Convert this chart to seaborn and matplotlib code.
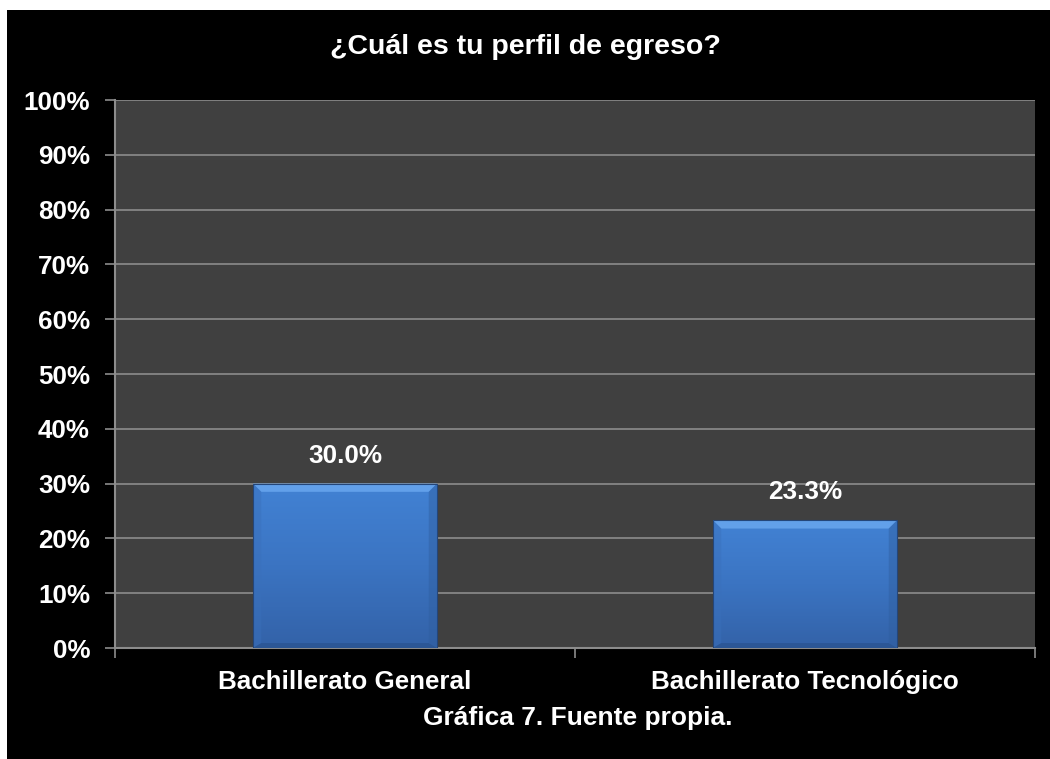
import numpy as np
import pandas as pd
import matplotlib
matplotlib.use("Agg")
import matplotlib.pyplot as plt
from matplotlib.patches import Rectangle, Polygon
from matplotlib.ticker import PercentFormatter, FixedLocator
import seaborn as sns

categories = ["Bachillerato General", "Bachillerato Tecnológico"]
values = [30.0, 23.3]
y_ticks = [0, 10, 20, 30, 40, 50, 60, 70, 80, 90, 100]
title = "¿Cuál es tu perfil de egreso?"
caption = "Gráfica 7. Fuente propia."

sns.set_theme(style="dark")
plt.rcParams["font.family"] = ["Liberation Sans", "DejaVu Sans"]
plt.rcParams["font.weight"] = "bold"

df = pd.DataFrame({"categoria": categories, "valor": values})

fig = plt.figure(figsize=(10.5, 7.59), dpi=100, facecolor="white")
# black panel behind the whole chart, leaving a thin white margin top/left
fig.patches.append(Rectangle((7 / 1050, 0), 1, 1 - 10 / 759,
                             transform=fig.transFigure, facecolor="black",
                             edgecolor="none", zorder=-10))

ax = fig.add_axes([115 / 1050, 1 - 648 / 759, 920 / 1050, 548 / 759])
ax.set_facecolor("#404040")

sns.barplot(data=df, x="categoria", y="valor", ax=ax, width=0.40,
            color="#3d78c8", saturation=1, edgecolor="none", zorder=3)

ax.set_xlim(-0.5, 1.5)
ax.set_ylim(0, 100)
ax.yaxis.set_major_locator(FixedLocator(y_ticks))
ax.yaxis.set_major_formatter(PercentFormatter(decimals=0))
ax.grid(axis="y", color="#8c8c8c", linewidth=1.2, zorder=1)
ax.grid(axis="x", visible=False)
ax.set_axisbelow(True)

# gradient fill and bevelled edges on each bar
grad = np.linspace(0, 1, 256).reshape(-1, 1)
cmap = matplotlib.colors.LinearSegmentedColormap.from_list(
    "barblue", ["#3362a8", "#3b74c2", "#4282d4"])
dx, dy = 0.018, 1.5   # bevel size in data units (~8 px)
for patch, val in zip(ax.patches, values):
    x0, w = patch.get_x(), patch.get_width()
    x1 = x0 + w
    im = ax.imshow(grad, extent=(x0, x1, 0, val), origin="lower",
                   cmap=cmap, aspect="auto", zorder=4)
    im.set_clip_path(patch)
    # top bevel (light)
    ax.add_patch(Polygon([(x0, val), (x1, val), (x1 - dx, val - dy),
                          (x0 + dx, val - dy)], closed=True,
                         facecolor="#62a0ea", edgecolor="none", zorder=5))
    # left / right bevels (subtle)
    ax.add_patch(Polygon([(x0, val), (x0 + dx, val - dy), (x0 + dx, dy * 0.6),
                          (x0, 0)], closed=True, facecolor="#3a70bb",
                         edgecolor="none", zorder=5, alpha=0.45))
    ax.add_patch(Polygon([(x1, val), (x1 - dx, val - dy), (x1 - dx, dy * 0.6),
                          (x1, 0)], closed=True, facecolor="#2f5e9f",
                         edgecolor="none", zorder=5, alpha=0.45))
    # bottom bevel (dark)
    ax.add_patch(Polygon([(x0, 0), (x1, 0), (x1 - dx, dy * 0.6),
                          (x0 + dx, dy * 0.6)], closed=True,
                         facecolor="#2c5796", edgecolor="none", zorder=5))
    ax.add_patch(Rectangle((x0, 0), w, val, facecolor="none",
                           edgecolor="#24467a", linewidth=0.8, zorder=6))
    ax.text((x0 + x1) / 2, val + 2.9, f"{val:.1f}%", ha="center",
            va="bottom", color="white", fontsize=18.8, fontweight="bold",
            zorder=7)
ax.set_xlim(-0.5, 1.5)
ax.set_ylim(0, 100)

for side in ("top", "right"):
    ax.spines[side].set_visible(False)
for side in ("left", "bottom"):
    ax.spines[side].set_visible(True)
    ax.spines[side].set_color("#8c8c8c")
    ax.spines[side].set_linewidth(1.5)

ax.tick_params(axis="y", which="major", left=True, length=7, width=1.2,
               color="#8c8c8c", labelcolor="white", labelsize=18.7, pad=11)
ax.set_xticks([0, 1])
ax.set_xticklabels(categories)
ax.tick_params(axis="x", which="major", bottom=False, labelcolor="white",
               labelsize=18.7, pad=10)
ax.xaxis.set_minor_locator(FixedLocator([-0.5, 0.5, 1.5]))
ax.tick_params(axis="x", which="minor", bottom=True, length=7, width=1.2,
               color="#8c8c8c")
for lbl in ax.get_xticklabels() + ax.get_yticklabels():
    lbl.set_fontweight("bold")

ax.set_xlabel("")
ax.set_ylabel("")

fig.text(525 / 1050, 1 - 47 / 759, title, ha="center", va="center",
         color="white", fontsize=20.5, fontweight="bold")
fig.text(578 / 1050, 1 - 718 / 759, caption, ha="center", va="center",
         color="white", fontsize=19, fontweight="bold")

fig.savefig("out.png", dpi=100, facecolor="white")
